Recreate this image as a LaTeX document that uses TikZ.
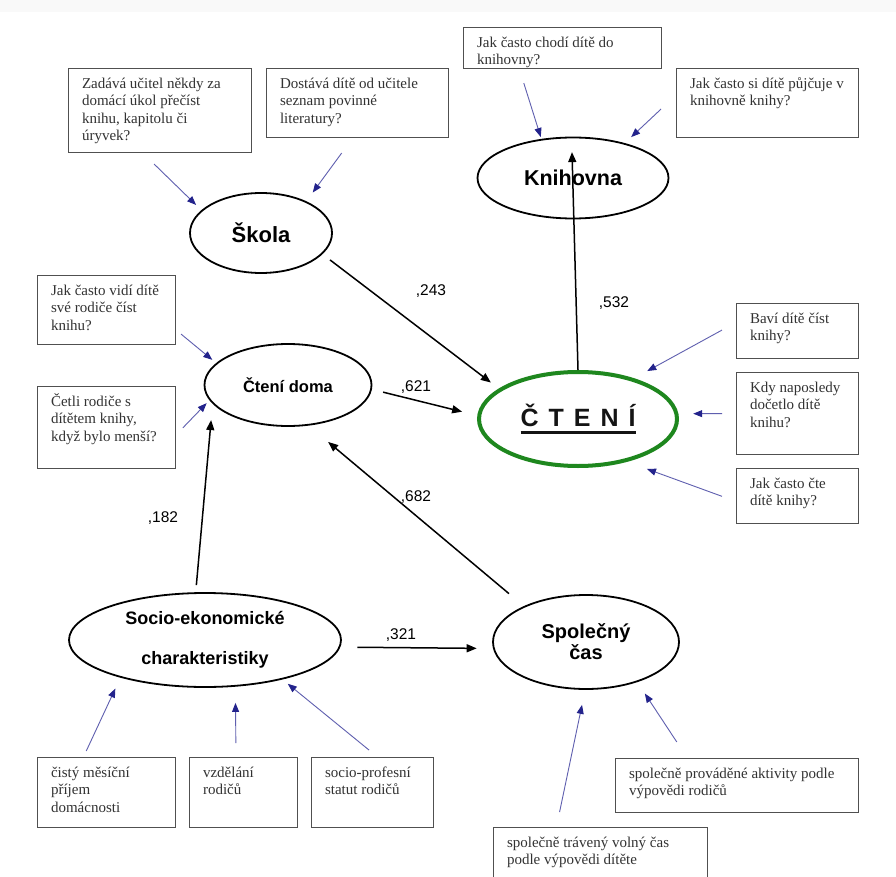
\documentclass[tikz,border=0pt]{standalone}
\usepackage{fontspec}
\usetikzlibrary{arrows.meta,shapes.geometric}
\newfontfamily\qfont{Liberation Serif}
\newfontfamily\lsans{Liberation Sans}
\definecolor{boxgray}{RGB}{80,80,80}
\definecolor{textgray}{RGB}{50,50,50}
\definecolor{blueline}{RGB}{95,95,175}
\definecolor{bluehead}{RGB}{35,35,140}
\definecolor{greenc}{RGB}{30,135,30}
\newcommand\ql[1]{\hbox to\hsize{\rule{0pt}{10.5pt}\smash{#1}\hfil}}
\newcommand\qb[6]{\node[qbox] (#1) at (#2,#3) {\vtop to \dimexpr #5pt-#3pt-18pt\relax{\hsize=\dimexpr #4pt-#2pt-27pt\relax #6\vfil}};}
\tikzset{
  qbox/.style={draw=boxgray, line width=1.1pt, anchor=north west, inner xsep=13.5pt, inner ysep=9pt,
    text=textgray, font=\qfont\fontsize{15}{17.5}\selectfont},
  ell/.style={draw, ellipse, line width=1.8pt, inner sep=0pt, align=center},
  conn/.style={line width=1.5pt, -{Triangle[length=10pt,width=8pt]}},
  bl/.style={draw=blueline, line width=0.9pt, -{Triangle[length=9pt,width=7pt,color=bluehead]}},
  lab/.style={font=\lsans\fontsize{15.5}{18}\selectfont, inner sep=0pt}
}
\begin{document}
\begin{tikzpicture}[x=1pt,y=-1pt]
\useasboundingbox (0,0) rectangle (896,877);
\fill[white] (0,0) rectangle (896,877);
\fill[gray!5] (0,0) rectangle (896,12);

% question boxes
\qb{q1}{68}{68}{251}{152}{\ql{Zadává učitel někdy za}\ql{domácí úkol přečíst}\ql{knihu, kapitolu či}\ql{úryvek?}}
\qb{q2}{266}{68}{448}{137}{\ql{Dostává dítě od učitele}\ql{seznam povinné}\ql{literatury?}}
\qb{q3}{463}{27}{661}{68}{\ql{Jak často chodí dítě do}\ql{knihovny?}}
\qb{q4}{676}{68}{858}{137}{\ql{Jak často si dítě půjčuje v}\ql{knihovně knihy?}}
\qb{q5}{37}{275}{175}{344}{\ql{Jak často vidí dítě}\ql{své rodiče číst}\ql{knihu?}}
\qb{q6}{37}{386}{175}{468}{\ql{Četli rodiče s}\ql{dítětem knihy,}\ql{když bylo menší?}}
\qb{q7}{736}{303}{858}{358}{\ql{Baví dítě číst}\ql{knihy?}}
\qb{q8}{736}{372}{858}{454}{\ql{Kdy naposledy}\ql{dočetlo dítě}\ql{knihu?}}
\qb{q9}{736}{468}{858}{523}{\ql{Jak často čte}\ql{dítě knihy?}}
\qb{q10}{37}{757}{175}{827}{\ql{čistý měsíční}\ql{příjem}\ql{domácnosti}}
\qb{q11}{189}{757}{297}{827}{\ql{vzdělání}\ql{rodičů}}
\qb{q12}{311}{757}{433}{827}{\ql{socio-profesní}\ql{statut rodičů}}
\qb{q13}{615}{758}{858}{812}{\ql{společně prováděné aktivity podle}\ql{výpovědi rodičů}}
\qb{q14}{493}{827}{707}{890}{\ql{společně trávený volný čas}\ql{podle výpovědi dítěte}}

% latent variables
\node[ell, minimum width=142pt, minimum height=80pt, font=\lsans\bfseries\fontsize{22}{24}\selectfont] (skola) at (261,233) {Škola};
\node[ell, minimum width=191pt, minimum height=81pt, font=\lsans\bfseries\fontsize{21.5}{24}\selectfont] (knih) at (573,178) {Knihovna};
\node[ell, minimum width=167pt, minimum height=82pt, font=\lsans\bfseries\fontsize{16.5}{19}\selectfont] (doma) at (288,385) {Čtení doma};
\node[ell, minimum width=272pt, minimum height=94pt, font=\lsans\bfseries\fontsize{18}{40}\selectfont] (socio) at (205,640) {Socio-ekonomické\\charakteristiky};
\node[ell, minimum width=186pt, minimum height=94pt, font=\lsans\bfseries\fontsize{20}{21}\selectfont] (spol) at (586,642) {Společný\\čas};
\node[ell, draw=greenc, line width=4pt, minimum width=198pt, minimum height=94pt,
      font=\lsans\bfseries\fontsize{25}{28}\selectfont, text={rgb,255:red,20;green,20;blue,20}] (cteni) at (578,419)
  {\setbox0\hbox{Č\hspace{10pt}T\hspace{10pt}E\hspace{10pt}N\hspace{10pt}Í}\rlap{\rule[-8.4pt]{\wd0}{3.2pt}}\box0};

% blue indicator arrows
\draw[bl, shorten <=15.7pt, shorten >=7.4pt] (q1.-112.85) -- (skola.159.1);
\draw[bl, shorten <=18.5pt, shorten >=10.8pt] (q2.-98.4) -- (skola.35.9);
\draw[bl, shorten <=14.7pt, shorten >=2pt] (q3.-154.7) -- (knih.129.6);
\draw[bl, shorten <=20.5pt, shorten >=8.8pt] (q4.175.3) -- (knih.34.1);
\draw[bl, shorten <=6.4pt, shorten >=5pt] (q5.-16.5) -- (doma.163.2);
\draw[bl, shorten <=9.7pt, shorten >=4pt] (q6.-6.4) -- (doma.191.7);
\draw[bl, shorten <=16pt, shorten >=15pt] (q7.172.3) -- (cteni.36.2);
\draw[bl, shorten <=14pt, shorten >=14.8pt] (q8.west) -- (cteni.3.4);
\draw[bl, shorten <=14.9pt, shorten >=21pt] (q9.185.2) -- (cteni.-41.1);
\draw[bl, shorten <=6.7pt, shorten >=12pt] (q10.123.3) -- (socio.204.9);
\draw[bl, shorten <=14pt, shorten >=16.2pt] (q11.102.9) -- (socio.-57.3);
\draw[bl, shorten <=11pt, shorten >=6.8pt] (q12.82.7) -- (socio.-27.4);
\draw[bl, shorten <=19.2pt, shorten >=13.7pt] (q13.151.1) -- (spol.-38.8);
\draw[bl, shorten <=15.3pt, shorten >=15.3pt] (q14.144.5) -- (spol.-91);

% structural paths
\draw[conn, shorten <=9.4pt, shorten >=10pt] (skola.-19.1) -- (cteni.159.5);
\draw[conn, shorten <=11.5pt, shorten >=15.6pt] (doma.-3.5) -- (cteni.178.8);
\draw[conn, shorten <=19.4pt, shorten >=25.4pt] (spol.150.6) -- (doma.-63.3);
\draw[conn, shorten <=7.1pt, shorten >=16.3pt] (socio.101.3) -- (doma.194);
\draw[conn, shorten <=16.9pt, shorten >=16.3pt] (socio.-3.4) -- (spol.184.9);
\draw[conn, shorten >=15.5pt] (cteni.north) -- (knih.92.3);

% coefficients
\node[lab] (c243) at (431,291) {,243};
\node[lab] (c621) at (416,387) {,621};
\node[lab] (c682) at (416,497) {,682};
\node[lab] (c182) at (163,518) {,182};
\node[lab] (c532) at (614,303) {,532};
\node[lab] (c321) at (401,635) {,321};
\end{tikzpicture}
\end{document}
